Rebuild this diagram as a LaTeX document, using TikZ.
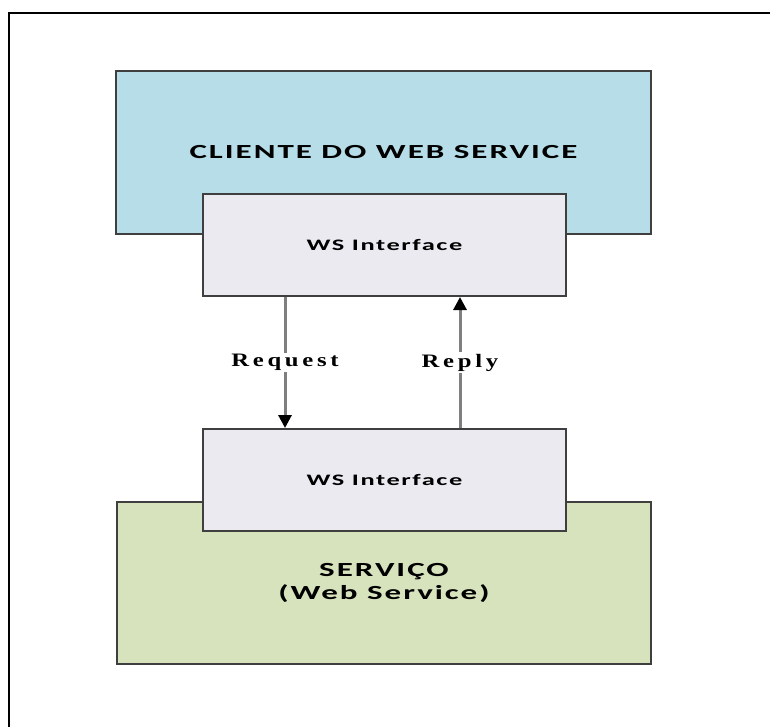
\documentclass[tikz,border=0pt]{standalone}
\usepackage{graphicx}
\usepackage{fontspec}
\setmainfont{Carlito}
\newfontfamily\capfont{Carlito}[LetterSpace=6]
\newfontfamily\wsfont{Carlito}[LetterSpace=6]
\newfontfamily\serfont{Liberation Serif}[LetterSpace=15]
% wide-set lettering used for every label
\newcommand\widetext[2][1.65]{\scalebox{#1}[1]{#2}}
\usetikzlibrary{arrows.meta}
\definecolor{clientblue}{HTML}{B7DDE8}
\definecolor{ifacegray}{HTML}{ECEAF1}
\definecolor{servgreen}{HTML}{D7E3BC}
\definecolor{edgegray}{HTML}{3F3F3F}
\definecolor{flowgray}{HTML}{7F7F7F}
\begin{document}
\begin{tikzpicture}[x=1pt,y=-1pt,
  block/.style={draw=edgegray,line width=2pt,rectangle,inner sep=0pt,align=center},
  outer/.style={block,minimum width=535pt,minimum height=163pt,
    font=\capfont\bfseries\fontsize{20}{23}\selectfont},
  iface/.style={block,fill=ifacegray,minimum width=363pt,minimum height=102pt,
    font=\wsfont\bfseries\fontsize{16}{19}\selectfont},
  flow/.style={draw=flowgray,line width=3pt,
    -{Triangle[length=13pt,width=13pt,color=black,fill=black]}},
  msg/.style={fill=white,inner sep=1.5pt,text=black,
    font=\serfont\bfseries\fontsize{19}{22}\selectfont}]
\useasboundingbox (0,0) rectangle (770,726);
\begin{scope}
  \clip (0,0) rectangle (770,726);
  \draw[black,line width=2pt] (9,13) rectangle (790,746);
\end{scope}

% client side and service side
\node[outer,fill=clientblue] (client) at (383.5,152.5) {\widetext{CLIENTE DO WEB SERVICE}};
\node[outer,fill=servgreen,minimum width=534pt,minimum height=162pt] (service) at (384,583)
  {\widetext{SERVIÇO}\\\widetext{(Web Service)}};

% interfaces on top of both
\node[iface] (ifc) at (384.5,245) {\widetext{WS Interface}};
\node[iface] (ifs) at (384.5,480) {\widetext{WS Interface}};

% request / reply connectors
\coordinate (reqx) at (285,0);
\coordinate (repx) at (460,0);
\draw[flow] (ifc.south -| reqx) -- node[msg] {\widetext[1.3]{Request}} (ifs.north -| reqx);
\draw[flow] (ifs.north -| repx) -- node[msg] {\widetext[1.3]{Reply}} (ifc.south -| repx);
\end{tikzpicture}
\end{document}
